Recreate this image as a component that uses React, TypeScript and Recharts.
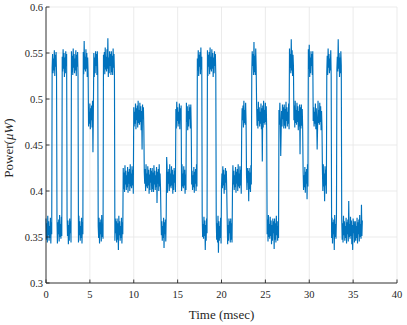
import { LineChart, Line, XAxis, YAxis, CartesianGrid } from 'recharts';

// power samples in nW, one every SAMPLE_STEP_MS
const SAMPLE_STEP_MS = 0.05;

const powerNw0to9 = [
  370, 347, 365, 344, 373, 352, 367, 346, 362, 349, 371, 343, 366, 353,
  534, 549, 528, 544, 531, 553, 525, 548, 535, 551, 527,
  371, 343, 366, 353, 369, 345, 374, 350, 364, 348, 372, 351,
  546, 530, 554, 533, 550, 524, 545, 528, 552, 536, 549,
  372, 351, 368, 342, 363, 346, 370, 354, 367, 344,
  552, 529, 547, 526, 555, 534, 549, 528, 544, 531, 553, 525, 548, 535, 551, 527,
  344, 373, 352, 367, 346, 362, 349, 371, 343, 366, 353,
  551, 527, 563, 532, 546, 530, 554, 533, 550, 524, 545, 528,
  470, 486, 473, 495, 467, 490, 477, 493, 469, 498, 442, 488,
  550, 524, 545, 528, 552, 536, 549, 526, 552, 529,
  362, 349, 371, 343, 366, 353, 369, 345, 374, 350, 364, 348,
  548, 535, 551, 527, 556, 532, 546, 530, 554, 533, 566, 524, 545, 528, 552, 536, 549, 526, 552, 529, 547, 526, 555, 534, 549, 528,
  346, 370, 354, 367, 344, 370, 347, 365, 336, 373, 352, 367, 346, 362, 349, 371, 343, 366, 353,
];

const powerNw9to18 = [
  425, 402, 420, 399, 428, 407, 422, 401, 417, 404, 426, 398, 421, 408, 424, 400, 429, 405, 419, 403, 427, 406, 423, 397,
  491, 470, 486, 473, 495, 467, 490, 477, 493, 469, 498, 474, 488, 472, 496, 475, 492, 466, 487, 445, 494, 478, 491, 468,
  421, 408, 424, 400, 429, 405, 419, 403, 427, 406, 423, 397, 418, 401, 425, 409, 422, 399, 425, 402, 420, 399, 428, 407,
  422, 401, 417, 404, 426, 387, 421, 408, 424, 400, 429, 405, 419, 403,
  373, 352, 367, 346, 362, 349, 371, 338, 366, 353, 369, 345, 374,
  437, 426, 398, 421, 408, 424, 400, 429, 405, 419, 403, 427, 406, 423, 397, 418, 401, 425, 409, 422, 399,
  489, 468, 497, 476, 491, 470, 486, 473, 495, 467, 490, 477, 493,
  400, 429, 405, 419, 403, 427, 406, 423, 397, 418, 401,
  496, 475, 492, 466, 487, 470, 494, 478, 491, 468, 494, 471,
  407, 422, 401, 417, 404, 426, 398, 421, 408, 424, 400, 429, 405,
  544, 531, 553, 525, 548, 535, 551, 527, 556, 532, 546,
  374, 350, 364, 348, 372, 351, 368, 336, 363, 346, 370, 354,
];

const powerNw18to28 = [
  553, 525, 548, 535, 551, 527, 556, 532, 546, 530, 554, 533, 550, 524, 545, 528, 552, 536, 549, 526,
  370, 347, 365, 344, 373, 333, 367, 346, 362, 349, 371, 343,
  405, 419, 403, 427, 406, 423, 397, 418, 401, 425, 409, 422, 399,
  368, 342, 363, 346, 370, 354, 367, 344, 370, 347, 365, 344,
  399, 428, 407, 422, 401, 417, 404, 426, 398, 421, 408, 424, 400, 429, 405, 419, 403, 427, 406, 423, 397,
  467, 490, 477, 493, 469, 498, 474, 488, 472, 496, 475,
  418, 401, 425, 409, 422, 389, 425, 402, 420, 399, 428, 407,
  528, 552, 536, 549, 526, 562, 529, 547, 526, 555, 534,
  494, 471, 489, 468, 497, 476, 491, 470, 486, 473, 495, 467, 490, 432, 493, 469, 498, 474, 488, 472, 496, 475, 492, 466,
  353, 369, 345, 374, 350, 364, 348, 372, 351, 368, 342, 363, 346, 370, 354, 367, 337, 370, 347, 365, 344, 373, 352, 367, 346, 362, 349,
  488, 472, 496, 475, 438, 466, 487, 470, 494, 478, 491, 468, 494, 471, 489, 468, 497, 476, 491, 470, 486, 473, 495, 467,
];

const powerNw28to36 = [
  555, 534, 549, 528, 565, 531, 553, 525, 548, 535,
  477, 493, 469, 498, 474, 488, 472, 496, 475, 492, 466, 487, 470, 494, 440, 491, 468, 494, 471, 489, 468,
  422, 401, 417, 404, 426, 398, 421, 408, 424, 391, 429, 405,
  554, 533, 559, 524, 545, 528, 552, 536, 549, 526, 552,
  476, 491, 470, 486, 473, 495, 467, 490, 477, 445, 469, 498, 474, 488, 472, 496, 475, 492, 466, 487, 470,
  424, 400, 429, 405, 419, 389, 427, 406, 423, 397,
  529, 547, 526, 555, 534, 549, 528, 544, 531, 553, 525,
  349, 371, 343, 366, 353, 369, 336, 374, 350, 364, 348, 372,
  532, 546, 530, 565, 533, 550, 524, 545, 528, 552, 536,
  370, 347, 365, 344, 373, 352, 367, 346, 362, 349, 371, 343, 366, 353, 369, 345, 389, 350, 364, 348, 372, 351, 368, 342,
  363, 336, 370, 354, 367, 344, 352, 367, 346, 362, 349, 371, 343, 366, 353, 369, 345, 374, 350, 364, 348, 385, 351, 368,
];

const xTicks = [0, 5, 10, 15, 20, 25, 30, 35, 40];
const yTicks = [0.3, 0.35, 0.4, 0.45, 0.5, 0.55, 0.6];

const data = [...powerNw0to9, ...powerNw9to18, ...powerNw18to28, ...powerNw28to36].map((nw, i) => ({
  t: Math.round(i * SAMPLE_STEP_MS * 100) / 100,
  p: nw / 1000,
}));

const AXIS = '#262626';
const TICK_LEN = 3.5;
const FONT = '"Liberation Serif", "Times New Roman", serif';

const BottomTick = ({ x, y, payload }: any) => (
  <g>
    <line x1={x} x2={x} y1={y} y2={y - TICK_LEN} stroke={AXIS} strokeWidth={0.9} />
    <text x={x} y={y + 15} textAnchor="middle" fontSize={10.5} fontFamily={FONT} fill={AXIS}>
      {payload.value}
    </text>
  </g>
);

const TopTick = ({ x, y }: any) => (
  <line x1={x} x2={x} y1={y} y2={y + TICK_LEN} stroke={AXIS} strokeWidth={0.9} />
);

const LeftTick = ({ x, y, payload }: any) => (
  <g>
    <line x1={x} x2={x + TICK_LEN} y1={y} y2={y} stroke={AXIS} strokeWidth={0.9} />
    <text x={x - 3} y={y + 3.7} textAnchor="end" fontSize={10.5} fontFamily={FONT} fill={AXIS}>
      {payload.value}
    </text>
  </g>
);

const RightTick = ({ x, y }: any) => (
  <line x1={x} x2={x - TICK_LEN} y1={y} y2={y} stroke={AXIS} strokeWidth={0.9} />
);

const XTitle = ({ viewBox }: any) => (
  <text
    x={viewBox.x + viewBox.width / 2}
    y={viewBox.y + 36}
    textAnchor="middle"
    fontSize={13}
    fontFamily={FONT}
    fill={AXIS}
  >
    Time (msec)
  </text>
);

const YTitle = ({ viewBox }: any) => (
  <text
    transform={`translate(12.7, ${viewBox.y + viewBox.height / 2 + 3}) rotate(-90)`}
    textAnchor="middle"
    fontSize={13}
    fontFamily={FONT}
    fill={AXIS}
  >
    Power(<tspan fontStyle="italic">μW</tspan>)
  </text>
);

export default function App() {
  return (
    <div style={{ position: 'absolute', left: 0, top: 0, background: '#fff' }}>
      <LineChart width={407} height={325} data={data} margin={{ top: 7, right: 10, left: 6, bottom: 0 }}>
        <CartesianGrid stroke="#e6e6e6" strokeWidth={0.8} />
        <XAxis
          dataKey="t"
          type="number"
          domain={[0, 40]}
          ticks={xTicks}
          interval={0}
          height={42}
          tickSize={0}
          tickMargin={0}
          tickLine={false}
          tick={<BottomTick />}
          axisLine={{ stroke: AXIS, strokeWidth: 0.9 }}
          label={<XTitle />}
        />
        <XAxis
          xAxisId="top"
          orientation="top"
          type="number"
          domain={[0, 40]}
          allowDataOverflow
          ticks={xTicks}
          interval={0}
          height={0}
          tickSize={0}
          tickMargin={0}
          tickLine={false}
          tick={<TopTick />}
          axisLine={{ stroke: AXIS, strokeWidth: 0.9 }}
        />
        <YAxis
          type="number"
          domain={[0.3, 0.6]}
          allowDataOverflow
          ticks={yTicks}
          interval={0}
          width={40}
          tickSize={0}
          tickMargin={0}
          tickLine={false}
          tick={<LeftTick />}
          axisLine={{ stroke: AXIS, strokeWidth: 0.9 }}
          label={<YTitle />}
        />
        <YAxis
          yAxisId="right"
          orientation="right"
          type="number"
          domain={[0.3, 0.6]}
          allowDataOverflow
          ticks={yTicks}
          interval={0}
          width={0}
          tickSize={0}
          tickMargin={0}
          tickLine={false}
          tick={<RightTick />}
          axisLine={{ stroke: AXIS, strokeWidth: 0.9 }}
        />
        <Line
          type="linear"
          dataKey="p"
          stroke="#0072BD"
          strokeWidth={1.15}
          dot={false}
          isAnimationActive={false}
        />
      </LineChart>
    </div>
  );
}
